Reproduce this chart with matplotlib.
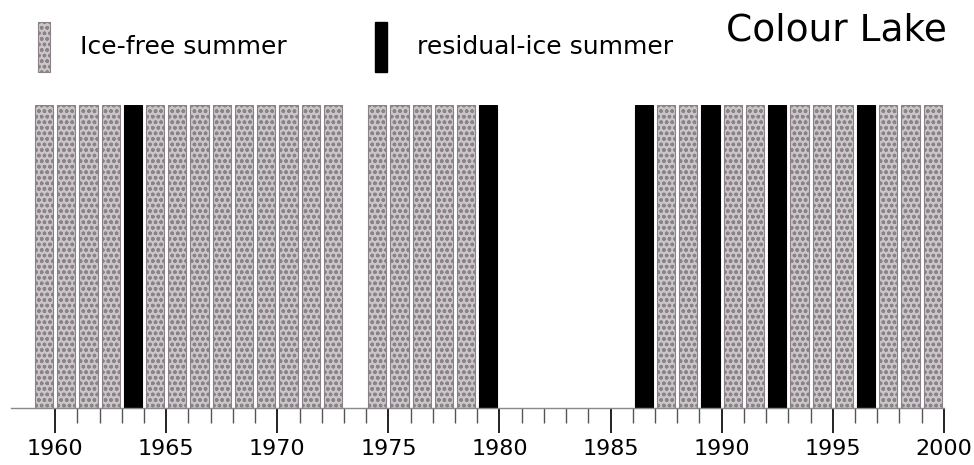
import matplotlib
matplotlib.use("Agg")
import matplotlib.pyplot as plt
from matplotlib.patches import Patch
from matplotlib.ticker import FixedLocator

# summer observations at Colour Lake (bar spans the year it starts)
ice_free_years = [1959, 1960, 1961, 1962, 1964, 1965, 1966, 1967, 1968, 1969,
                  1970, 1971, 1972, 1974, 1975, 1976, 1977, 1978, 1987, 1988,
                  1990, 1991, 1993, 1994, 1995, 1997, 1998, 1999]
residual_ice_years = [1963, 1979, 1986, 1989, 1992, 1996]
tick_years = [1960, 1965, 1970, 1975, 1980, 1985, 1990, 1995, 2000]
minor_years = [y for y in range(1961, 2000) if y % 5 != 0]

grey_face = "#c9c6c8"
grey_hatch = "#8d8189"

fig = plt.figure(figsize=(9.74, 4.65), dpi=100)
ax = fig.add_axes([0.011, 0.1226, 0.958, 0.651])

ax.bar([y + 0.5 for y in ice_free_years], 1, width=0.82,
       facecolor=grey_face, edgecolor=grey_hatch, hatch="ooo", linewidth=0.8)
ax.bar([y + 0.5 for y in residual_ice_years], 1, width=0.82,
       facecolor="black", edgecolor="black", linewidth=0.8)

ax.set_xlim(1958, 2000)
ax.set_ylim(0, 1)
ax.set_yticks([])
for s in ["top", "left", "right"]:
    ax.spines[s].set_visible(False)
ax.spines["bottom"].set_color("#888888")
ax.spines["bottom"].set_linewidth(1)

ax.set_xticks(tick_years)
ax.set_xticklabels([str(t) for t in tick_years], fontsize=16)
ax.xaxis.set_minor_locator(FixedLocator(minor_years))
ax.tick_params(axis="x", which="major", length=18, width=1.4, color="#222222", pad=4)
ax.tick_params(axis="x", which="minor", length=11, width=1.0, color="#555555")

handles = [Patch(facecolor=grey_face, edgecolor=grey_hatch, hatch="ooo", linewidth=0.8),
           Patch(facecolor="black", edgecolor="black")]
fig.legend(handles, ["Ice-free summer", "residual-ice summer"], loc="upper left",
           bbox_to_anchor=(0.039, 0.953), ncol=2, frameon=False, fontsize=18,
           borderpad=0, borderaxespad=0,
           handlelength=0.5, handleheight=2.7, handletextpad=1.2, columnspacing=3.5)

fig.text(0.972, 0.934, "Colour Lake", ha="right", va="center", fontsize=27)

fig.savefig("out.png", dpi=100)
